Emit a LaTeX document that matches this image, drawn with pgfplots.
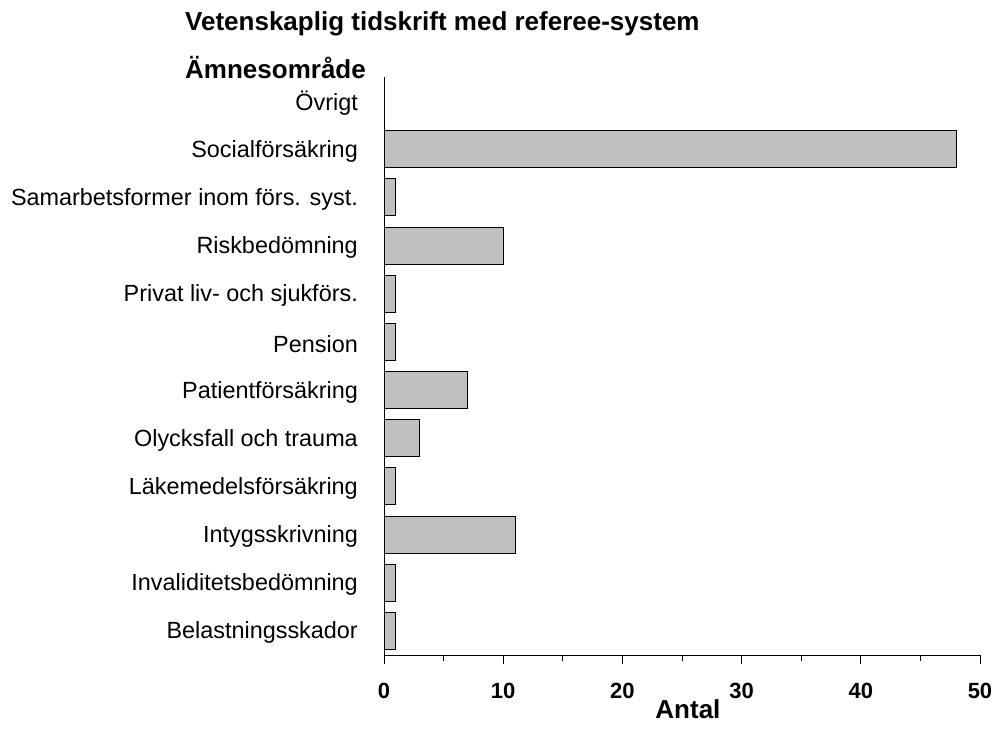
\documentclass[border=0pt]{standalone}
\usepackage{fontspec}
\setmainfont{Liberation Sans}
\usepackage{pgfplots}
\pgfplotsset{compat=1.18}
\begin{document}
\begin{tikzpicture}
\path[use as bounding box] (0,0) rectangle (995pt,-740pt);
\node[anchor=west, font=\bfseries\fontsize{26}{30}\selectfont, inner sep=0pt] at (185pt,-24pt) {Vetenskaplig tidskrift med referee-system};
\node[anchor=west, font=\bfseries\fontsize{26}{30}\selectfont, inner sep=0pt] at (185pt,-68pt) {Ämnesområde};
\begin{axis}[
  at={(384pt,-655pt)}, anchor=south west,
  scale only axis, width=596pt, height=578pt,
  xbar, bar width=37pt, bar shift=0pt,
  xmin=0, xmax=50, ymin=-0.5, ymax=11.5,
  axis x line*=bottom, axis y line*=left,
  axis line style={line width=0.9pt, -},
  xtick={0,10,20,30,40,50},
  minor xtick={5,15,25,35,45},
  xtick align=outside,
  major tick length=9pt, minor tick length=6pt,
  every tick/.style={line width=0.9pt, black},
  ytick={0,...,11},
  yticklabels={Belastningsskador, Invaliditetsbedömning, Intygsskrivning, Läkemedelsförsäkring, Olycksfall och trauma, Patientförsäkring, Pension, Privat liv- och sjukförs., Riskbedömning, Samarbetsformer inom förs. syst., Socialförsäkring, Övrigt},
  ytick style={draw=none},
  yticklabel style={font=\fontsize{23.4}{27}\selectfont, anchor=east, inner sep=0pt, xshift=-17pt, yshift=-2pt},
  /pgf/number format/assume math mode=true,
  xticklabel style={font=\bfseries\fontsize{22}{26}\selectfont, anchor=center, inner sep=0pt, yshift=-27pt},
  xlabel={Antal},
  xlabel style={font=\bfseries\fontsize{26}{30}\selectfont, at={(axis description cs:0.51,0)}, anchor=center, inner sep=0pt, yshift=-54pt},
  clip=false,
]
\addplot[fill={rgb,255:red,192;green,192;blue,192}, draw=black, line width=0.9pt] coordinates {
  (1,0) (1,1) (11,2) (1,3) (3,4) (7,5) (1,6) (1,7) (10,8) (1,9) (48,10) (0,11)
};
\end{axis}
\end{tikzpicture}
\end{document}
